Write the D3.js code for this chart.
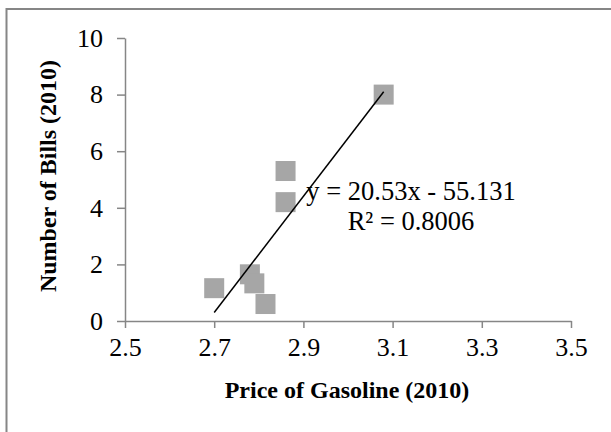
<!DOCTYPE html>
<html><head><meta charset="utf-8">
<script src="https://cdn.jsdelivr.net/npm/d3@7"></script>
<style>html,body{margin:0;padding:0;background:#fff;overflow:hidden}</style>
</head><body>
<svg id="chart" width="611" height="432"></svg>
<script>
const gasPrice = [2.70, 2.78, 2.79, 2.815, 2.86, 2.86, 3.08];
const numBills = [1.16, 1.65, 1.33, 0.6, 4.2, 5.3, 8.0];
const xTicks = [2.5, 2.7, 2.9, 3.1, 3.3, 3.5];
const yTicks = [0, 2, 4, 6, 8, 10];
const trendCoef = [20.53, -55.131];
const eqLines = ["y = 20.53x - 55.131", "R² = 0.8006"];
const xTitle = "Price of Gasoline (2010)";
const yTitle = "Number of Bills (2010)";

const svg = d3.select("#chart");
const font = "'Liberation Serif','Times New Roman',serif";
const axisCol = "#868686";

svg.append("rect").attr("x", 6.5).attr("y", 9).attr("width", 700).attr("height", 500)
  .attr("fill", "none").attr("stroke", axisCol).attr("stroke-width", 2);

const x = d3.scaleLinear().domain([2.5, 3.5]).range([125, 571]);
const y = d3.scaleLinear().domain([0, 10]).range([321, 38]);

const xAxis = svg.append("g").attr("transform", "translate(0,321)")
  .call(d3.axisBottom(x).tickValues(xTicks).tickFormat(d3.format(".1f")).tickSizeInner(7).tickSizeOuter(0).tickPadding(10));
const yAxis = svg.append("g").attr("transform", "translate(125,0)")
  .call(d3.axisLeft(y).tickValues(yTicks).tickFormat(d3.format("d")).tickSizeInner(8).tickSizeOuter(0).tickPadding(14));
[xAxis, yAxis].forEach(g => {
  g.select(".domain").attr("stroke", axisCol).attr("stroke-width", 1.5);
  g.selectAll(".tick line").attr("stroke", axisCol).attr("stroke-width", 1.5);
  g.selectAll(".tick text").attr("fill", "#000").style("font-family", font).style("font-size", "26px");
});

const pts = gasPrice.map((g, i) => [g, numBills[i]]);
const sz = 20;
svg.append("g").selectAll("rect").data(pts).join("rect")
  .attr("x", d => x(d[0]) - sz / 2).attr("y", d => y(d[1]) - sz / 2)
  .attr("width", sz).attr("height", sz).attr("fill", "#a6a6a6");

const xmin = d3.min(gasPrice), xmax = d3.max(gasPrice);
const line = d3.line().x(d => x(d[0])).y(d => y(d[1]));
svg.append("path").datum([[xmin, trendCoef[0] * xmin + trendCoef[1]], [xmax, trendCoef[0] * xmax + trendCoef[1]]])
  .attr("d", line).attr("stroke", "#000").attr("stroke-width", 1.5).attr("fill", "none");

svg.append("g").selectAll("text").data(eqLines).join("text")
  .attr("x", 411).attr("y", (d, i) => 200 + i * 30).attr("text-anchor", "middle")
  .style("font-family", font).style("font-size", "26.5px").text(d => d);

svg.append("text").attr("x", 347).attr("y", 398).attr("text-anchor", "middle")
  .style("font-family", font).style("font-size", "24px").style("font-weight", "bold").text(xTitle);
svg.append("text").attr("transform", "translate(56,176) rotate(-90)").attr("text-anchor", "middle")
  .style("font-family", font).style("font-size", "24px").style("font-weight", "bold").text(yTitle);
</script>
</body></html>
